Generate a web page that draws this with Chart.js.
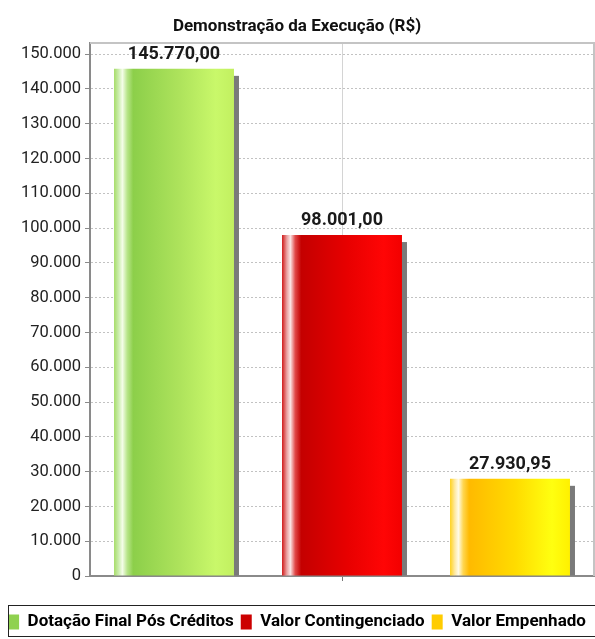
<!DOCTYPE html>
<html>
<head>
<meta charset="utf-8">
<script src="https://cdn.jsdelivr.net/npm/chart.js@4/dist/chart.umd.min.js"></script>
<style>
  html, body { margin: 0; padding: 0; background: #fff; overflow: hidden; }
  #wrap { width: 612px; height: 642px; }
</style>
</head>
<body>
<div id="wrap"><canvas id="execChart" width="612" height="642"></canvas></div>
<script>
const titleText = "Demonstração da Execução (R$)";
const categories = ["Dotação Final Pós Créditos", "Valor Contingenciado", "Valor Empenhado"];
const values = [145770.00, 98001.00, 27930.95];
const yTicks = [0, 10000, 20000, 30000, 40000, 50000, 60000, 70000, 80000, 90000, 100000, 110000, 120000, 130000, 140000, 150000];

// legend / base colours and gradient stops per bar
const baseColors = ["#8fd14f", "#cc0000", "#ffcc00"];
const gradStops = [
  [[0, "#a6dc68"], [0.04, "#cdeeb0"], [0.07, "#f4fde8"], [0.11, "#b8e58a"], [0.16, "#8ccf4a"], [0.55, "#aee35c"], [0.85, "#c9f86a"], [1, "#c2f060"]],
  [[0, "#d01818"], [0.04, "#eaa0a0"], [0.07, "#fbe4e4"], [0.11, "#e04848"], [0.16, "#c40000"], [0.55, "#e80000"], [0.85, "#ff0505"], [1, "#f20000"]],
  [[0, "#ffd21c"], [0.04, "#ffe9a0"], [0.07, "#fffbe8"], [0.11, "#ffd650"], [0.16, "#ffba00"], [0.55, "#ffdc00"], [0.85, "#ffff10"], [1, "#fff000"]]
];

const BAR_FRAC = 0.714;
const FONT = "Roboto, 'Liberation Sans', sans-serif";

function fmtThousands(v) {
  return String(v).replace(/\B(?=(\d{3})+(?!\d))/g, ".");
}
function fmtMoney(v) {
  const parts = v.toFixed(2).split(".");
  return fmtThousands(parts[0]) + "," + parts[1];
}

function barFill(c) {
  const chart = c.chart;
  const i = c.dataIndex;
  const xs = chart.scales.x;
  if (!chart.chartArea || !xs || i === undefined) return baseColors[i] || "#999";
  const cx = xs.getPixelForValue(i);
  const w = (xs.width / categories.length) * BAR_FRAC;
  const left = cx - w / 2;
  const g = chart.ctx.createLinearGradient(left, 0, left + w, 0);
  gradStops[i].forEach(s => g.addColorStop(s[0], s[1]));
  return g;
}

// shadow behind bars, value labels above, plot outline and legend frame
const decor = {
  id: "decor",
  beforeDatasetsDraw(chart) {
    const ctx = chart.ctx;
    const meta = chart.getDatasetMeta(0);
    ctx.save();
    ctx.fillStyle = "#7a7a7a";
    meta.data.forEach(bar => {
      const p = bar.getProps(["x", "y", "base", "width"], true);
      ctx.fillRect(p.x - p.width / 2 + 5, p.y + 7, p.width, p.base - p.y - 7);
    });
    ctx.restore();
  },
  afterDatasetsDraw(chart) {
    const ctx = chart.ctx;
    const meta = chart.getDatasetMeta(0);
    ctx.save();
    ctx.font = "bold 18px " + FONT;
    ctx.fillStyle = "#1a1a1a";
    ctx.textAlign = "center";
    ctx.textBaseline = "alphabetic";
    meta.data.forEach((bar, i) => {
      const p = bar.getProps(["x", "y"], true);
      ctx.fillText(fmtMoney(values[i]), p.x, p.y - 10);
    });
    ctx.restore();
  },
  afterDraw(chart) {
    const ctx = chart.ctx;
    const a = chart.chartArea;
    ctx.save();
    ctx.strokeStyle = "#c4c4c4";
    ctx.lineWidth = 2;
    ctx.beginPath();
    ctx.moveTo(a.left, a.top);
    ctx.lineTo(a.right, a.top);
    ctx.lineTo(a.right, a.bottom);
    ctx.stroke();
    const l = chart.legend;
    ctx.strokeStyle = "#222";
    ctx.lineWidth = 1;
    ctx.strokeRect(8.5, Math.round(l.top) - 1.5, chart.width, 31);
    ctx.restore();
  }
};

new Chart(document.getElementById("execChart"), {
  type: "bar",
  data: {
    labels: categories,
    datasets: [{
      label: titleText,
      data: values,
      backgroundColor: barFill,
      borderWidth: 0,
      categoryPercentage: 1,
      barPercentage: BAR_FRAC
    }]
  },
  options: {
    responsive: false,
    animation: false,
    events: [],
    layout: { padding: { left: 0, right: 18, top: 0, bottom: 1.5 } },
    plugins: {
      title: {
        display: true,
        text: titleText,
        color: "#111",
        font: { family: FONT, size: 17, weight: "bold" },
        padding: { top: 17, bottom: 5.6 }
      },
      legend: {
        position: "bottom",
        labels: {
          font: { family: FONT, size: 17, weight: "bold" },
          color: "#111",
          boxWidth: 11,
          boxHeight: 15,
          padding: 7,
          generateLabels: () => categories.map((c, i) => ({
            text: c,
            fillStyle: baseColors[i],
            strokeStyle: baseColors[i],
            lineWidth: 0,
            hidden: false,
            index: i
          }))
        }
      },
      tooltip: { enabled: false }
    },
    scales: {
      x: {
        grid: {
          offset: false,
          drawTicks: true,
          tickLength: 5,
          color: c => (c.index === 1 ? "#d4d4d4" : "rgba(0,0,0,0)"),
          tickColor: c => (c.index === 1 ? "#777" : "rgba(0,0,0,0)")
        },
        border: { display: true, color: "#8a8a8a", width: 2 },
        ticks: { display: false },
        afterFit(scale) { scale.height = 30.5; }
      },
      y: {
        min: 0,
        max: 153200,
        grid: {
          color: "#c2c2c2",
          tickColor: "#8a8a8a",
          tickLength: 5,
          drawTicks: true
        },
        border: { display: true, color: "#8a8a8a", width: 2, dash: [2, 2] },
        ticks: {
          stepSize: 10000,
          padding: 4,
          color: "#222",
          font: { family: FONT, size: 16.5 },
          callback: v => fmtThousands(v)
        },
        afterBuildTicks(scale) {
          scale.ticks = yTicks.map(v => ({ value: v }));
        },
        afterFit(scale) { scale.width = 90; }
      }
    }
  },
  plugins: [decor]
});
</script>
</body>
</html>
